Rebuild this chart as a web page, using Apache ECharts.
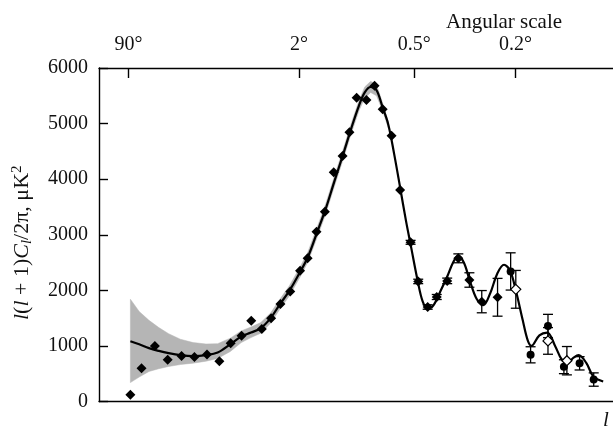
<!DOCTYPE html>
<html>
<head>
<meta charset="utf-8">
<script src="https://cdn.jsdelivr.net/npm/echarts@6.0.0/dist/echarts.min.js"></script>
<style>
html,body{margin:0;padding:0;background:#fff;}
#chart{width:613px;height:430px;}
</style>
</head>
<body>
<div id="chart"></div>
<script>
// ---- Data (multipole l, power in µK²) ----
const angleTickL = [2, 90, 360, 900];
const angleTickLabels = ['90°', '2°', '0.5°', '0.2°'];

// WMAP binned points without error bars
const wmapL = [2.15, 3.17, 4.83, 6.96, 10, 13.6, 18, 23.3, 29.1, 35.6, 42.3, 50.6, 58.9, 68.2, 79.1, 91.3, 101.6, 114.8, 128.4, 144, 161, 175.2, 191.1, 214.5, 235.4, 257.8, 284, 311.2];
const wmapV = [120, 600, 1000, 750, 820, 800, 845, 725, 1050, 1185, 1455, 1305, 1497, 1752, 1980, 2353, 2576, 3055, 3415, 4124, 4417, 4844, 5467, 5425, 5682, 5257, 4782, 3805];

// WMAP binned points with error bars
const wmapErrL = [347, 375, 412, 450, 497, 551, 609, 679, 777];
const wmapErrV = [2864, 2160, 1700, 1880, 2170, 2576, 2186, 1796, 1875];
const wmapErrE = [35, 40, 40, 45, 50, 80, 130, 200, 340];

// other experiments: filled circles
const circL = [866, 1016, 1162, 1309, 1467, 1621];
const circV = [2340, 840, 1358, 626, 687, 395];
const circE = [335, 145, 210, 125, 120, 120];

// other experiments: open diamonds
const openL = [903, 1162, 1338];
const openV = [2018, 1090, 734];
const openE = [340, 240, 255];

// best-fit model curve
const modelL = [2.15, 2.93, 4.03, 5.42, 7.14, 9.7, 13.2, 17.6, 22.5, 28.9, 35.4, 42.1, 49.8, 58.4, 67.2, 78, 91.3, 102, 115, 129.6, 145.2, 162.3, 178.6, 196.3, 210.3, 225.2, 240.7, 257, 274.2, 292.1, 311.2, 330.9, 348, 373, 392, 411.5, 435.8, 465.5, 497.2, 525.1, 549.2, 579.3, 610.6, 648.8, 688.8, 730.6, 774.9, 820, 861, 903, 954, 992, 1023, 1088, 1155, 1226, 1287, 1345, 1405, 1457, 1540, 1617, 1731];
const modelV = [1085, 1030, 960, 910, 870, 835, 818, 835, 880, 1030, 1170, 1240, 1320, 1500, 1740, 1990, 2330, 2600, 3020, 3460, 3960, 4450, 4900, 5320, 5560, 5660, 5600, 5300, 4980, 4450, 3850, 3250, 2800, 2170, 1800, 1670, 1730, 1980, 2250, 2500, 2620, 2500, 2180, 1850, 1735, 1950, 2300, 2460, 2360, 2000, 1470, 1110, 1000, 1190, 1240, 1000, 760, 700, 790, 835, 690, 450, 360];

// cosmic variance band
const bandL = [2.15, 2.93, 4.03, 5.42, 7.14, 9.7, 13.2, 17.6, 22.5, 28.9, 35.4, 42.1, 49.8, 58.4, 67.2, 78, 91.3, 102, 115, 129.6, 145.2, 162.3, 178.6, 196.3, 210.3, 225.2, 240.7, 257, 274.2];
const bandLo = [340, 440, 540, 590, 630, 665, 690, 725, 775, 900, 1060, 1150, 1230, 1410, 1650, 1900, 2240, 2510, 2930, 3370, 3870, 4360, 4810, 5230, 5460, 5560, 5500, 5240, 4920];
const bandHi = [1840, 1620, 1460, 1330, 1220, 1120, 1060, 1035, 1040, 1140, 1270, 1340, 1420, 1590, 1830, 2080, 2420, 2690, 3110, 3550, 4050, 4540, 4990, 5410, 5660, 5760, 5700, 5380, 5040];

// ---- axis transform: x position ∝ l^(1/4) ----
const tx = l => Math.pow(l, 0.25);
const pairs = (L, V) => L.map((l, i) => [tx(l), V[i]]);
const errs = (L, V, E) => L.map((l, i) => [tx(l), V[i] - E[i], V[i] + E[i]]);

const FONT = 'Liberation Serif';
const INK = '#111';

function errRender(params, api) {
  const x = api.value(0);
  const p1 = api.coord([x, api.value(1)]);
  const p2 = api.coord([x, api.value(2)]);
  const w = 5;
  const st = { stroke: '#000', lineWidth: 1.3 };
  return {
    type: 'group',
    children: [
      { type: 'line', shape: { x1: p1[0], y1: p1[1], x2: p2[0], y2: p2[1] }, style: st },
      { type: 'line', shape: { x1: p1[0] - w, y1: p1[1], x2: p1[0] + w, y2: p1[1] }, style: st },
      { type: 'line', shape: { x1: p2[0] - w, y1: p2[1], x2: p2[0] + w, y2: p2[1] }, style: st }
    ]
  };
}

function bandRender(params, api) {
  if (params.dataIndexInside !== 0) return null;
  const n = params.dataInsideLength;
  const up = [], dn = [];
  for (let i = 0; i < n; i++) {
    up.push(api.coord([api.value(0, i), api.value(2, i)]));
    dn.push(api.coord([api.value(0, i), api.value(1, i)]));
  }
  return {
    type: 'polygon',
    shape: { points: up.concat(dn.reverse()) },
    style: { fill: '#b5b5b5', stroke: '#b5b5b5', lineWidth: 0.5 }
  };
}

const xMin = 0.863, xMax = 6.559;
const tickU = angleTickL.map(tx);

const chart = echarts.init(document.getElementById('chart'), null, { renderer: 'canvas' });
chart.setOption({
  animation: false,
  backgroundColor: '#fff',
  title: {
    text: 'Angular scale',
    left: 441, top: 7,
    textStyle: { fontFamily: FONT, fontSize: 21, fontWeight: 'normal', color: INK }
  },
  graphic: [{
    type: 'text', left: 603, top: 410,
    style: { text: 'l', font: 'italic 21px "Liberation Serif"', fill: INK }
  }],
  grid: { left: 99, top: 68, width: 524, bottom: 28.5 },
  xAxis: [{
    type: 'value', position: 'bottom', min: xMin, max: xMax,
    axisLine: { show: true, onZero: false, lineStyle: { color: '#000', width: 1.4 } },
    axisTick: { show: false }, axisLabel: { show: false }, splitLine: { show: false }
  }, {
    type: 'value', position: 'top', min: xMin, max: xMax,
    axisLine: { show: true, onZero: false, lineStyle: { color: '#000', width: 1.4 } },
    axisTick: { show: true, inside: true, length: 10, customValues: tickU, lineStyle: { color: '#000', width: 1.4 } },
    axisLabel: {
      show: true, customValues: tickU, margin: 13,
      fontFamily: FONT, fontSize: 20, color: INK,
      formatter: v => {
        let best = 0;
        tickU.forEach((t, i) => { if (Math.abs(t - v) < Math.abs(tickU[best] - v)) best = i; });
        return angleTickLabels[best];
      }
    },
    splitLine: { show: false }
  }],
  yAxis: {
    type: 'value', min: 0, max: 6000, interval: 1000,
    axisLine: { show: true, lineStyle: { color: '#000', width: 1.4 } },
    axisTick: { show: true, inside: true, length: 9, lineStyle: { color: '#000', width: 1.4 } },
    axisLabel: { fontFamily: FONT, fontSize: 20, color: INK, margin: 11, formatter: v => String(v) },
    splitLine: { show: false },
    name: '{i|l}(' + '{i|l}' + ' + 1){c|C}{s|l}/2π, μK{p|2}',
    nameLocation: 'middle', nameRotate: 90, nameGap: 64,
    nameTextStyle: {
      fontFamily: FONT, fontSize: 22, color: INK, padding: [0, 16, 0, 0],
      rich: {
        i: { fontFamily: FONT, fontSize: 22, fontStyle: 'italic', color: INK },
        c: { fontFamily: FONT, fontSize: 22, fontStyle: 'italic', color: INK },
        s: { fontFamily: FONT, fontSize: 15, fontStyle: 'italic', color: INK, padding: [10, 0, 0, 0] },
        p: { fontFamily: FONT, fontSize: 15, color: INK, padding: [0, 0, 10, 0] }
      }
    }
  },
  series: [
    {
      type: 'custom', name: 'band', renderItem: bandRender,
      data: bandL.map((l, i) => [tx(l), bandLo[i], bandHi[i]]),
      encode: { x: 0, y: [1, 2] }, silent: true, z: 1
    },
    {
      type: 'line', name: 'model', data: pairs(modelL, modelV),
      smooth: 0.35, symbol: 'none', lineStyle: { color: '#000', width: 2.2 }, z: 3
    },
    {
      type: 'custom', name: 'errW', renderItem: errRender, data: errs(wmapErrL, wmapErrV, wmapErrE),
      encode: { x: 0, y: [1, 2] }, z: 4
    },
    {
      type: 'custom', name: 'errC', renderItem: errRender, data: errs(circL, circV, circE),
      encode: { x: 0, y: [1, 2] }, z: 4
    },
    {
      type: 'custom', name: 'errO', renderItem: errRender, data: errs(openL, openV, openE),
      encode: { x: 0, y: [1, 2] }, z: 4
    },
    {
      type: 'scatter', name: 'wmap', data: pairs(wmapL, wmapV).concat(pairs(wmapErrL, wmapErrV)),
      symbol: 'diamond', symbolSize: 10, itemStyle: { color: '#000', opacity: 1 }, z: 5
    },
    {
      type: 'scatter', name: 'circ', data: pairs(circL, circV),
      symbol: 'circle', symbolSize: 8, itemStyle: { color: '#000', opacity: 1 }, z: 5
    },
    {
      type: 'scatter', name: 'open', data: pairs(openL, openV),
      symbol: 'diamond', symbolSize: 10, itemStyle: { color: '#fff', borderColor: '#000', borderWidth: 1.2, opacity: 1 }, z: 6
    }
  ]
});
</script>
</body>
</html>
